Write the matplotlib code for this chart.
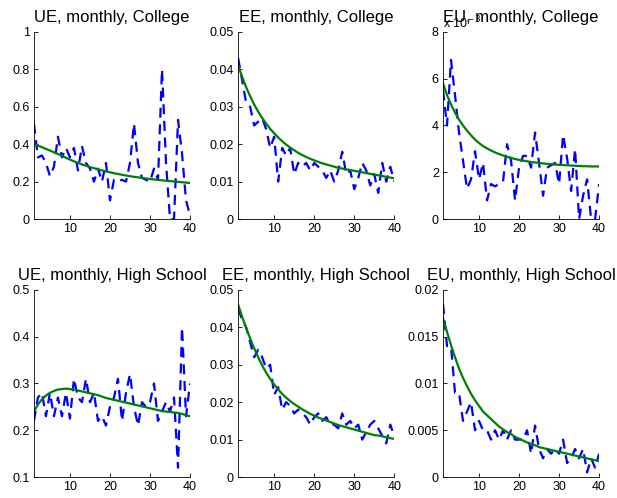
import matplotlib
matplotlib.use("Agg")
import matplotlib.pyplot as plt

months = list(range(1, 41))

# College
ue_col_data = [0.51, 0.33, 0.34, 0.30, 0.23, 0.28, 0.44, 0.33, 0.38, 0.33,
               0.38, 0.26, 0.39, 0.30, 0.27, 0.20, 0.27, 0.20, 0.30, 0.10,
               0.21, 0.20, 0.21, 0.20, 0.30, 0.51, 0.30, 0.22, 0.21, 0.20,
               0.27, 0.21, 0.80, 0.30, 0.00, 0.00, 0.53, 0.35, 0.10, 0.02]
ue_col_model = [0.400, 0.392, 0.384, 0.375, 0.366, 0.357, 0.348, 0.338, 0.328, 0.318,
                0.309, 0.300, 0.292, 0.285, 0.278, 0.272, 0.266, 0.260, 0.255, 0.250,
                0.245, 0.241, 0.237, 0.233, 0.229, 0.226, 0.223, 0.220, 0.217, 0.214,
                0.212, 0.210, 0.207, 0.205, 0.203, 0.201, 0.199, 0.197, 0.195, 0.193]
ee_col_data = [0.043, 0.037, 0.031, 0.030, 0.025, 0.026, 0.027, 0.024, 0.019, 0.022,
               0.010, 0.019, 0.017, 0.019, 0.012, 0.015, 0.014, 0.015, 0.013, 0.015,
               0.014, 0.013, 0.011, 0.013, 0.010, 0.013, 0.018, 0.012, 0.013, 0.008,
               0.011, 0.015, 0.013, 0.009, 0.012, 0.007, 0.015, 0.010, 0.014, 0.010]
ee_col_model = [0.0410, 0.0380, 0.0352, 0.0328, 0.0306, 0.0287, 0.0270, 0.0255, 0.0241, 0.0229,
                0.0218, 0.0208, 0.0199, 0.0191, 0.0184, 0.0177, 0.0171, 0.0166, 0.0161, 0.0157,
                0.0153, 0.0149, 0.0146, 0.0143, 0.0140, 0.0137, 0.0135, 0.0133, 0.0131, 0.0129,
                0.0127, 0.0125, 0.0123, 0.0121, 0.0119, 0.0117, 0.0115, 0.0113, 0.0111, 0.0109]
# EU college is in units of 1e-3
eu_col_data = [5.5, 4.0, 6.8, 5.3, 3.7, 2.5, 1.3, 1.7, 2.9, 1.7,
               2.4, 0.8, 1.5, 1.4, 1.5, 1.6, 3.2, 2.5, 0.8, 2.2,
               2.7, 2.7, 2.2, 3.7, 2.4, 1.0, 2.2, 2.3, 2.4, 1.5,
               3.6, 2.6, 1.2, 3.0, 0.0, 1.0, 1.7, 0.0, 0.0, 1.5]
eu_col_model = [5.80, 5.30, 4.90, 4.55, 4.25, 4.00, 3.78, 3.58, 3.40, 3.25,
                3.12, 3.02, 2.93, 2.85, 2.78, 2.72, 2.66, 2.61, 2.57, 2.53,
                2.50, 2.47, 2.44, 2.42, 2.40, 2.38, 2.36, 2.35, 2.33, 2.32,
                2.31, 2.30, 2.29, 2.28, 2.27, 2.26, 2.26, 2.25, 2.25, 2.25]

# High school
ue_hs_data = [0.22, 0.27, 0.28, 0.23, 0.28, 0.23, 0.27, 0.23, 0.28, 0.225,
              0.31, 0.27, 0.26, 0.31, 0.26, 0.28, 0.22, 0.23, 0.21, 0.25,
              0.27, 0.31, 0.22, 0.28, 0.32, 0.25, 0.21, 0.26, 0.25, 0.26,
              0.30, 0.22, 0.24, 0.26, 0.24, 0.27, 0.12, 0.42, 0.23, 0.30]
ue_hs_model = [0.240, 0.255, 0.266, 0.274, 0.280, 0.284, 0.287, 0.288, 0.289, 0.288,
               0.287, 0.285, 0.283, 0.281, 0.279, 0.277, 0.275, 0.272, 0.269, 0.267,
               0.265, 0.263, 0.261, 0.259, 0.257, 0.255, 0.253, 0.251, 0.249, 0.247,
               0.245, 0.243, 0.241, 0.240, 0.239, 0.238, 0.237, 0.235, 0.232, 0.230]
ee_hs_data = [0.045, 0.042, 0.040, 0.036, 0.032, 0.034, 0.032, 0.029, 0.030, 0.022,
              0.024, 0.018, 0.020, 0.019, 0.017, 0.018, 0.017, 0.016, 0.014, 0.016,
              0.017, 0.015, 0.016, 0.014, 0.014, 0.013, 0.017, 0.014, 0.015, 0.013,
              0.014, 0.010, 0.012, 0.014, 0.015, 0.013, 0.011, 0.009, 0.014, 0.011]
ee_hs_model = [0.0460, 0.0428, 0.0398, 0.0370, 0.0344, 0.0320, 0.0298, 0.0279, 0.0262, 0.0247,
               0.0234, 0.0222, 0.0212, 0.0203, 0.0195, 0.0188, 0.0181, 0.0175, 0.0169, 0.0164,
               0.0159, 0.0155, 0.0151, 0.0147, 0.0143, 0.0139, 0.0136, 0.0133, 0.0130, 0.0127,
               0.0124, 0.0121, 0.0118, 0.0115, 0.0112, 0.0111, 0.0109, 0.0106, 0.0104, 0.0102]
eu_hs_data = [0.0185, 0.014, 0.014, 0.009, 0.009, 0.006, 0.007, 0.008, 0.005, 0.006,
              0.005, 0.005, 0.004, 0.005, 0.004, 0.005, 0.004, 0.005, 0.004, 0.004,
              0.004, 0.005, 0.0025, 0.0055, 0.003, 0.002, 0.003, 0.0025, 0.003, 0.0025,
              0.004, 0.0015, 0.002, 0.003, 0.002, 0.003, 0.0005, 0.002, 0.001, 0.0025]
eu_hs_model = [0.0170, 0.0155, 0.0141, 0.0128, 0.0116, 0.0106, 0.0097, 0.0089, 0.0082, 0.0076,
               0.0070, 0.0066, 0.0062, 0.0058, 0.0054, 0.0051, 0.0048, 0.0046, 0.0043, 0.0041,
               0.0039, 0.0037, 0.0035, 0.0034, 0.0032, 0.0031, 0.0030, 0.0029, 0.0028, 0.0027,
               0.0026, 0.0025, 0.0024, 0.0023, 0.0022, 0.0021, 0.0020, 0.0019, 0.0018, 0.0017]

panels = [
    ("UE, monthly, College", ue_col_data, ue_col_model, (0, 1), [0, 0.2, 0.4, 0.6, 0.8, 1], ["0", "0.2", "0.4", "0.6", "0.8", "1"]),
    ("EE, monthly, College", ee_col_data, ee_col_model, (0, 0.05), [0, 0.01, 0.02, 0.03, 0.04, 0.05], ["0", "0.01", "0.02", "0.03", "0.04", "0.05"]),
    ("EU, monthly, College", eu_col_data, eu_col_model, (0, 8), [0, 2, 4, 6, 8], ["0", "2", "4", "6", "8"]),
    ("UE, monthly, High School", ue_hs_data, ue_hs_model, (0.1, 0.5), [0.1, 0.2, 0.3, 0.4, 0.5], ["0.1", "0.2", "0.3", "0.4", "0.5"]),
    ("EE, monthly, High School", ee_hs_data, ee_hs_model, (0, 0.05), [0, 0.01, 0.02, 0.03, 0.04, 0.05], ["0", "0.01", "0.02", "0.03", "0.04", "0.05"]),
    ("EU, monthly, High School", eu_hs_data, eu_hs_model, (0, 0.02), [0, 0.005, 0.01, 0.015, 0.02], ["0", "0.005", "0.01", "0.015", "0.02"]),
]

plt.rcParams.update({"font.family": "Liberation Sans", "font.size": 9})
fig = plt.figure(figsize=(6.17, 4.98), dpi=100)
lefts = [0.055, 0.386, 0.718]
bottoms = [0.560, 0.042]
w, h = 0.253, 0.376

for i, (title, data, model, ylim, yt, ytl) in enumerate(panels):
    ax = fig.add_axes([lefts[i % 3], bottoms[i // 3], w, h])
    ax.plot(months, data, color="blue", ls=(0, (4.5, 3)), lw=1.6)
    ax.plot(months, model, color="green", lw=1.6)
    ax.set_xlim(1, 40)
    ax.set_ylim(*ylim)
    ax.set_xticks([10, 20, 30, 40])
    ax.set_yticks(yt)
    ax.set_yticklabels(ytl)
    ax.tick_params(direction="in", length=3, width=0.6, labelsize=9, pad=3)
    for s in ("top", "right"):
        ax.spines[s].set_visible(False)
    for s in ("left", "bottom"):
        ax.spines[s].set_linewidth(0.6)
    ax.set_title(title, fontsize=12, pad=7)
    if i == 2:
        # exponent label for the 1e-3 scaled axis
        ax.text(0.0, 1.005, r"x 10$^{-3}$", transform=ax.transAxes, fontsize=9,
                ha="left", va="bottom")

fig.savefig("out.png", dpi=100)
